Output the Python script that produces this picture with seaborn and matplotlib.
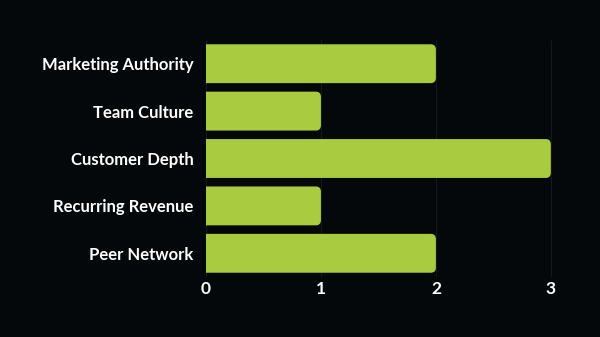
import pandas as pd
import matplotlib.pyplot as plt
import seaborn as sns
from matplotlib.patches import FancyBboxPatch

# Data
categories = ['Marketing Authority', 'Team Culture', 'Customer Depth',
              'Recurring Revenue', 'Peer Network']
scores = [2, 1, 3, 1, 2]

df = pd.DataFrame({'category': categories, 'score': scores})

bg = '#05080a'
bar_color = '#a8cb40'

sns.set_style('dark')
plt.rcParams['font.family'] = ['Lato', 'DejaVu Sans']

fig = plt.figure(figsize=(6, 3.37), dpi=100, facecolor=bg)
ax = fig.add_axes([206 / 600, 1 - 277 / 337, 346 / 600, 237 / 337])
ax.set_facecolor(bg)

sns.barplot(data=df, x='score', y='category', color=bar_color,
            width=0.82, saturation=1, ax=ax)

# swap plain bars for rounded ones
x_px = 346 / 3.01
y_px = 237 / 5
for p in list(ax.patches):
    x0, y0 = p.get_x(), p.get_y()
    w, h = p.get_width(), p.get_height()
    p.remove()
    rb = FancyBboxPatch((x0 - 0.06, y0), w + 0.06, h,
                        boxstyle='round,pad=0,rounding_size=0.045',
                        mutation_aspect=x_px / y_px,
                        facecolor=bar_color, edgecolor='none', zorder=2)
    ax.add_patch(rb)

ax.set_xlim(0, 3.01)
ax.set_xticks([0, 1, 2, 3])
ax.grid(axis='x', color='#16191c', linewidth=0.8, zorder=0)
ax.grid(axis='y', visible=False)
ax.set_axisbelow(True)

for s in ax.spines.values():
    s.set_visible(False)

ax.tick_params(axis='both', length=0, colors='white')
ax.tick_params(axis='y', pad=9)
ax.tick_params(axis='x', pad=3)
for t in ax.get_yticklabels():
    t.set_fontsize(12)
    t.set_fontweight('bold')
    t.set_color('white')
for t in ax.get_xticklabels():
    t.set_fontsize(12.5)
    t.set_fontweight('bold')
    t.set_color('white')

ax.set_xlabel('')
ax.set_ylabel('')

fig.savefig('out.png', dpi=100, facecolor=bg)
